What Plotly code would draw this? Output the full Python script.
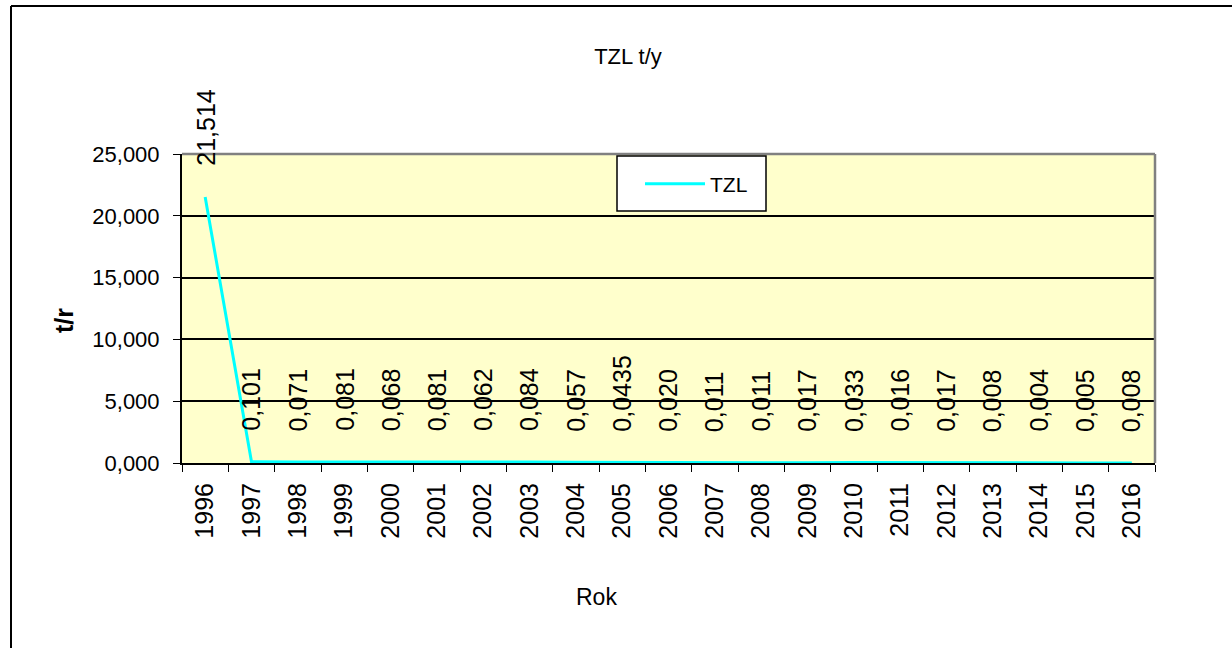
import plotly.graph_objects as go

# ---- data ----
years = [str(y) for y in range(1996, 2017)]
tzl_values = [21.514, 0.101, 0.071, 0.081, 0.068, 0.081, 0.062, 0.084, 0.057, 0.0435,
              0.020, 0.011, 0.011, 0.017, 0.033, 0.016, 0.017, 0.008, 0.004, 0.005, 0.008]
value_labels = ["21,514", "0,101", "0,071", "0,081", "0,068", "0,081", "0,062", "0,084",
                "0,057", "0,0435", "0,020", "0,011", "0,011", "0,017", "0,033", "0,016",
                "0,017", "0,008", "0,004", "0,005", "0,008"]
y_tick_vals = [0, 5, 10, 15, 20, 25]
y_tick_text = ["0,000", "5,000", "10,000", "15,000", "20,000", "25,000"]

W, H = 1232, 648
L, R, T, B = 182, 1155, 154, 463  # plot area in pixels

FONT = "Liberation Sans, Arial, sans-serif"


def px_x(p):
    return (p - L) / (R - L)


def px_y(p):
    return (B - p) / (B - T)


fig = go.Figure()
fig.add_trace(go.Scatter(
    x=years, y=tzl_values, mode="lines", name="TZL",
    line=dict(color="#00FFFF", width=3), cliponaxis=False,
))

annotations = []
for i, (v, lab) in enumerate(zip(tzl_values, value_labels)):
    annotations.append(dict(
        x=i, y=v, xref="x", yref="y", text=lab, showarrow=False,
        textangle=-90, xanchor="center", yanchor="bottom", yshift=29,
        font=dict(family=FONT, size=25, color="black"),
    ))

annotations.append(dict(
    x=px_x(596), y=px_y(597), xref="paper", yref="paper", text="Rok",
    showarrow=False, xanchor="center", yanchor="middle",
    font=dict(family=FONT, size=23, color="black"),
))
annotations.append(dict(
    x=px_x(64), y=px_y(321), xref="paper", yref="paper", text="<b>t/r</b>",
    showarrow=False, textangle=-90, xanchor="center", yanchor="middle",
    font=dict(family=FONT, size=25, color="black"),
))

shapes = [
    # grey plot-area border (top & right)
    dict(type="line", xref="paper", yref="paper", x0=0, x1=1, y0=1, y1=1,
         line=dict(color="#808080", width=2.5)),
    dict(type="line", xref="paper", yref="paper", x0=1, x1=1, y0=0, y1=1,
         line=dict(color="#808080", width=2.5)),
    # outer chart border (top & left)
    dict(type="line", xref="paper", yref="paper", x0=px_x(11), x1=px_x(1240),
         y0=px_y(6), y1=px_y(6), line=dict(color="black", width=2)),
    dict(type="line", xref="paper", yref="paper", x0=px_x(11), x1=px_x(11),
         y0=px_y(6), y1=px_y(660), line=dict(color="black", width=2)),
    # legend frame
    dict(type="rect", xref="paper", yref="paper", x0=px_x(617), x1=px_x(766),
         y0=px_y(211), y1=px_y(156), fillcolor="white",
         line=dict(color="black", width=1.5), layer="above"),
]

fig.update_layout(
    width=W, height=H,
    margin=dict(l=L, r=W - R, t=T, b=H - B, pad=0),
    paper_bgcolor="white", plot_bgcolor="#FFFFCC",
    title=dict(text="TZL t/y", x=628 / W, y=1 - 56 / H, xref="container", yref="container",
               xanchor="center", yanchor="middle",
               font=dict(family=FONT, size=22, color="black")),
    showlegend=True,
    legend=dict(x=px_x(640), y=px_y(184), xanchor="left", yanchor="middle",
                bgcolor="rgba(0,0,0,0)", borderwidth=0, itemwidth=60,
                font=dict(family=FONT, size=21, color="black")),
    xaxis=dict(type="category", categoryorder="array", categoryarray=years,
               range=[-0.5, len(years) - 0.5], autorange=False,
               tickson="boundaries", ticks="outside", ticklen=7, tickwidth=1,
               tickcolor="black", tickangle=-90, showline=True, linecolor="black",
               linewidth=2, showgrid=False, zeroline=False, layer="below traces",
               ticklabelstandoff=8,
               tickfont=dict(family=FONT, size=25, color="black")),
    yaxis=dict(range=[0, 25], autorange=False, tickvals=y_tick_vals, ticktext=y_tick_text,
               ticks="outside", ticklen=7, tickwidth=1, tickcolor="black",
               showline=True, linecolor="black", linewidth=2,
               showgrid=True, gridcolor="black", gridwidth=1.5, zeroline=False,
               layer="below traces", ticklabelstandoff=9,
               tickfont=dict(family=FONT, size=22, color="black")),
    annotations=annotations,
    shapes=shapes,
)

fig.write_html("out.html", config={"displayModeBar": False},
               post_script="document.body.style.margin='0px';")
